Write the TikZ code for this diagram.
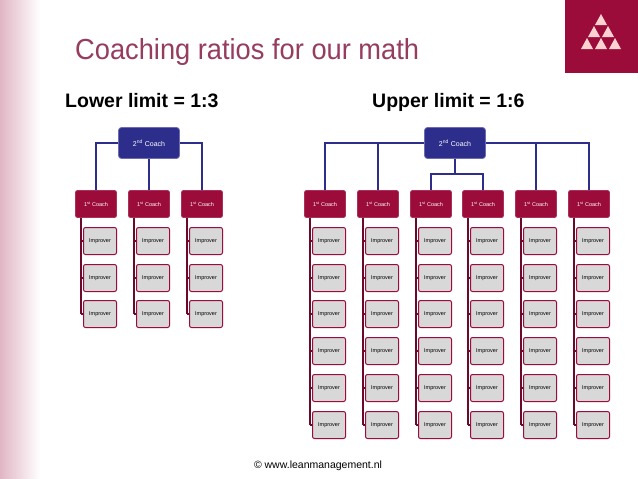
\documentclass[tikz,border=0pt]{standalone}
\usepackage{fontspec}
\setmainfont{Liberation Sans}
\definecolor{wine}{RGB}{155,12,58}
\definecolor{navy}{RGB}{45,45,140}
\definecolor{titlec}{RGB}{150,60,95}
\definecolor{impf}{RGB}{216,216,216}
\tikzset{
 coach/.style={draw=wine!85!white,fill=wine,rounded corners=2pt,minimum width=41pt,minimum height=27pt,text=white,font=\fontsize{5.5}{6}\selectfont,line width=0.8pt},
 boss/.style={draw=navy!70!white,fill=navy,rounded corners=3pt,minimum width=61pt,minimum height=31pt,text=white,font=\fontsize{7}{8}\selectfont,line width=0.8pt},
 imp/.style={draw=wine,fill=impf,rounded corners=2pt,minimum width=33pt,minimum height=27pt,font=\fontsize{5.5}{6}\selectfont,line width=1pt},
 bl/.style={navy,line width=1.2pt},
 rl/.style={wine!70!black,line width=1.2pt}
}
\begin{document}
\begin{tikzpicture}[x=1pt,y=-1pt]
\useasboundingbox (0,0) rectangle (638,479);
\fill[white] (0,0) rectangle (638,479);
\shade[left color=wine!30,right color=white] (0,0) rectangle (40,479);
\fill[wine] (565,0) rectangle (638,73);
\foreach \x/\y in {601/20,594/32,608/32,587/44,601/44,615/44}
  \fill[pink!70!white] (\x,\y-6) -- (\x+6,\y+5) -- (\x-6,\y+5) -- cycle;
\node[anchor=base west,inner sep=0,text=titlec,font=\fontsize{29}{32}\selectfont,xscale=0.94] (title) at (75,59) {Coaching ratios for our math};
\node[anchor=base west,inner sep=0,font=\bfseries\fontsize{19.5}{22}\selectfont] (ll) at (65,107) {Lower limit = 1:3};
\node[anchor=base west,inner sep=0,font=\bfseries\fontsize{19.5}{22}\selectfont] (ul) at (372,107) {Upper limit = 1:6};
\node[font=\fontsize{10.5}{12}\selectfont] (foot) at (318,466) {© www.leanmanagement.nl};
% left tree
\node[boss] (LB) at (149,143) {2\textsuperscript{nd} Coach};
\foreach \i/\x in {1/96,2/149,3/202}{
  \node[coach] (L\i) at (\x,204) {1\textsuperscript{st} Coach};
  \foreach \r/\y in {1/241,2/278,3/314}
    \node[imp] (L\i\r) at (\x+4,\y) {Improver};
  \draw[rl] ([xshift=-15pt]L\i.south) -- ([xshift=-15pt]L\i.south |- L\i3.west);
  \foreach \r in {1,2,3}
    \draw[rl] ([xshift=-15pt]L\i.south |- L\i\r.west) -- (L\i\r.west);
}
\draw[bl] (LB.west) -| (L1.north);
\draw[bl] (LB.south) -- (L2.north);
\draw[bl] (LB.east) -| (L3.north);
% right tree
\node[boss] (RB) at (455,143) {2\textsuperscript{nd} Coach};
\foreach \i/\x in {1/325,2/378,3/431,4/483,5/536,6/589}{
  \node[coach] (R\i) at (\x,204) {1\textsuperscript{st} Coach};
  \foreach \r/\y in {1/241,2/278,3/314,4/351,5/388,6/425}
    \node[imp] (R\i\r) at (\x+4,\y) {Improver};
  \draw[rl] ([xshift=-15pt]R\i.south) -- ([xshift=-15pt]R\i.south |- R\i6.west);
  \foreach \r in {1,...,6}
    \draw[rl] ([xshift=-15pt]R\i.south |- R\i\r.west) -- (R\i\r.west);
}
\draw[bl] (RB.west) -| (R1.north);
\draw[bl] (RB.west -| R2.north) -- (R2.north);
\draw[bl] (RB.east) -| (R6.north);
\draw[bl] (RB.east -| R5.north) -- (R5.north);
\coordinate (mid) at (455,174);
\draw[bl] (RB.south) -- (mid);
\draw[bl] (R3.north) |- (mid) -| (R4.north);
\end{tikzpicture}
\end{document}
